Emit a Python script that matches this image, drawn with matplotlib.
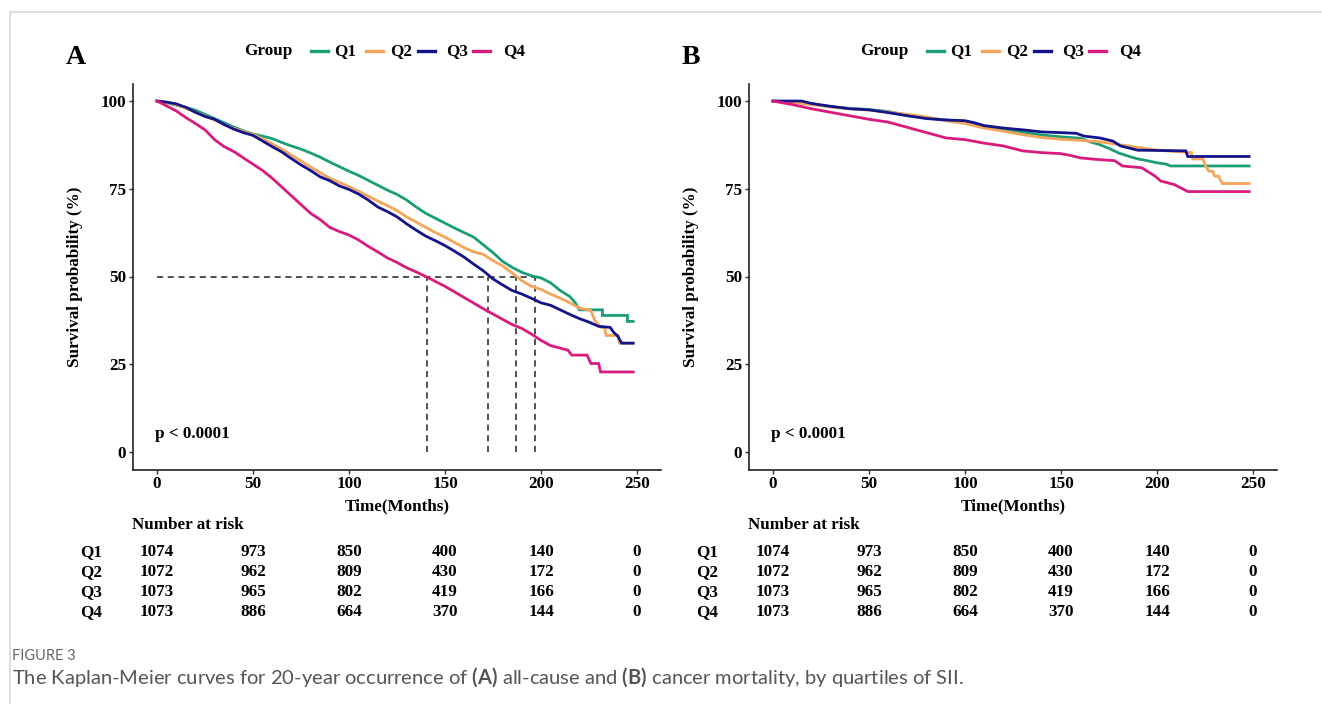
import matplotlib
matplotlib.use("Agg")
import matplotlib.pyplot as plt
from matplotlib.lines import Line2D
import matplotlib.transforms as mtransforms

plt.rcParams["mathtext.fontset"] = "custom"
plt.rcParams["mathtext.rm"] = "Lato"
plt.rcParams["mathtext.bf"] = "Lato:bold"

# ---- data ----
groups = ["Q1", "Q2", "Q3", "Q4"]
colors = ["#1B9E77", "#F5A55A", "#14148A", "#D81B7C"]

# Panel A: all-cause mortality (time in months, survival in %)
q1_a_t = [0, 5, 10, 15, 20, 25, 30, 35, 40, 45, 50, 55, 60, 65, 70, 75, 80, 85, 90, 95, 100, 105, 110, 115, 120,
          125, 130, 135, 140, 145, 150, 155, 160, 165, 170, 175, 180, 185, 190, 195, 200, 205, 210, 215, 218, 220,
          232, 232, 245, 245, 248]
q1_a_s = [100, 99.5, 98.8, 98.2, 97.4, 96.2, 95.0, 93.8, 92.6, 91.5, 90.6, 90.0, 89.3, 88.2, 87.2, 86.3, 85.2, 84.0,
          82.6, 81.3, 80.0, 78.8, 77.4, 76.0, 74.6, 73.4, 71.8, 69.8, 68.0, 66.6, 65.2, 63.8, 62.5, 61.2, 59.0, 56.8,
          54.3, 52.6, 51.2, 50.2, 49.6, 48.2, 46.0, 44.3, 42.4, 40.5, 40.5, 38.9, 38.9, 37.2, 37.2]

q2_a_t = [0, 5, 10, 15, 20, 25, 30, 35, 40, 45, 50, 55, 60, 65, 70, 75, 80, 85, 90, 95, 100, 105, 110, 115, 120,
          125, 130, 135, 140, 145, 150, 155, 160, 165, 170, 175, 180, 185, 190, 195, 200, 205, 210, 215, 220, 226,
          228, 231, 233, 234, 240, 241, 248]
q2_a_s = [100, 99.6, 98.9, 98.0, 96.8, 95.7, 94.6, 93.3, 92.2, 91.3, 90.5, 89.2, 87.8, 86.3, 84.6, 82.9, 81.2, 79.6,
          78.0, 76.8, 75.6, 74.3, 72.9, 71.5, 70.2, 68.8, 67.0, 65.5, 64.0, 62.5, 61.2, 59.7, 58.2, 57.0, 56.3, 54.5,
          53.0, 51.0, 48.8, 47.2, 46.3, 45.0, 43.8, 42.5, 41.0, 40.3, 37.5, 35.5, 35.5, 33.2, 33.2, 31.0, 31.0]

q3_a_t = [0, 5, 10, 15, 20, 25, 30, 35, 40, 45, 50, 55, 60, 65, 70, 75, 80, 85, 90, 95, 100, 105, 110, 115, 120,
          125, 130, 135, 140, 145, 150, 155, 160, 165, 170, 175, 180, 185, 190, 195, 200, 205, 210, 215, 220, 225,
          230, 236, 238, 240, 242, 248]
q3_a_s = [100, 99.7, 99.2, 98.2, 96.8, 95.6, 94.8, 93.3, 92.0, 91.0, 90.2, 88.6, 87.0, 85.5, 83.6, 81.8, 80.2, 78.4,
          77.3, 75.8, 74.8, 73.5, 71.8, 69.8, 68.5, 67.0, 65.0, 63.2, 61.5, 60.2, 58.8, 57.2, 55.5, 53.5, 51.6, 49.3,
          47.6, 46.0, 45.0, 43.8, 42.5, 41.8, 40.5, 39.2, 38.0, 37.0, 35.8, 35.5, 34.0, 33.0, 31.0, 31.0]

q4_a_t = [0, 5, 10, 15, 20, 25, 30, 35, 40, 45, 50, 55, 60, 65, 70, 75, 80, 85, 90, 95, 100, 105, 110, 115, 120,
          125, 130, 135, 140, 145, 150, 155, 160, 165, 170, 175, 180, 185, 190, 195, 200, 205, 210, 214, 216, 224,
          226, 230, 231, 248]
q4_a_s = [100, 98.6, 97.2, 95.3, 93.6, 91.8, 89.0, 87.0, 85.6, 83.8, 82.0, 80.2, 78.0, 75.5, 73.0, 70.5, 68.0, 66.2,
          64.0, 62.8, 61.8, 60.4, 58.6, 57.0, 55.3, 54.0, 52.5, 51.3, 50.0, 48.6, 47.2, 45.6, 44.0, 42.4, 40.8, 39.3,
          37.8, 36.3, 35.2, 33.6, 31.8, 30.3, 29.6, 29.0, 27.6, 27.6, 25.2, 25.2, 22.8, 22.8]

# median survival times (panel A), Q1..Q4
medians_a = [196.8, 186.8, 172.5, 140.5]

# Panel B: cancer mortality
q1_b_t = [0, 10, 20, 25, 30, 40, 50, 60, 70, 80, 90, 100, 105, 110, 120, 130, 140, 150, 160, 165, 170, 175, 180,
          185, 190, 195, 200, 205, 207, 248]
q1_b_s = [100, 99.7, 99.3, 98.8, 98.4, 97.9, 97.6, 97.0, 96.0, 95.2, 94.6, 94.2, 93.6, 92.6, 92.0, 91.2, 90.3, 89.8,
          89.4, 88.4, 87.6, 86.5, 85.2, 84.3, 83.5, 83.0, 82.4, 82.0, 81.5, 81.5]

q2_b_t = [0, 10, 20, 30, 40, 50, 60, 70, 80, 90, 100, 110, 120, 130, 140, 150, 160, 170, 180, 190, 200, 210, 218,
          218.5, 224, 225, 227, 229, 230, 232, 234, 248]
q2_b_s = [100, 99.6, 99.0, 98.3, 97.8, 97.4, 96.8, 96.2, 95.5, 94.4, 93.6, 92.3, 91.4, 90.4, 89.6, 89.1, 88.8, 88.4,
          87.6, 86.8, 86.0, 85.6, 85.3, 83.5, 83.5, 81.8, 80.0, 80.0, 78.6, 78.6, 76.5, 76.5]

q3_b_t = [0, 15, 20, 30, 40, 50, 60, 70, 80, 90, 100, 105, 110, 120, 130, 140, 150, 158, 162, 170, 177, 181, 190,
          215, 216, 248]
q3_b_s = [100, 100, 99.3, 98.5, 97.8, 97.5, 96.7, 95.8, 95.0, 94.6, 94.4, 93.8, 93.0, 92.3, 91.8, 91.2, 91.0, 90.8,
          90.0, 89.5, 88.6, 87.2, 86.0, 85.8, 84.2, 84.2]

q4_b_t = [0, 10, 20, 30, 40, 50, 60, 70, 80, 90, 100, 110, 120, 130, 140, 150, 155, 160, 170, 178, 182, 192, 199,
          202, 209, 214, 216, 248]
q4_b_s = [100, 99.0, 97.8, 96.8, 95.8, 94.8, 94.0, 92.5, 91.0, 89.5, 89.0, 88.0, 87.2, 85.8, 85.3, 85.0, 84.5, 83.8,
          83.3, 83.0, 81.5, 81.0, 78.6, 77.2, 76.2, 74.8, 74.2, 74.2]

# number at risk (same table under both panels)
risk_times = [0, 50, 100, 150, 200, 250]
risk_q1 = [1074, 973, 850, 400, 140, 0]
risk_q2 = [1072, 962, 809, 430, 172, 0]
risk_q3 = [1073, 965, 802, 419, 166, 0]
risk_q4 = [1073, 886, 664, 370, 144, 0]

y_ticks = [0, 25, 50, 75, 100]
x_ticks = [0, 50, 100, 150, 200, 250]

W, H = 1322, 704
serif = "Liberation Serif"
fs = 12.3


def fx(px):
    return px / W


def fy(py):
    return 1 - py / H


fig = plt.figure(figsize=(W / 100, H / 100), dpi=100)

# light frame around the figure panel
fig.add_artist(Line2D([fx(10), 1], [fy(11.5), fy(11.5)], color="#d8d8d8", lw=1.2))
fig.add_artist(Line2D([fx(10), fx(10)], [fy(11.5), 0], color="#d8d8d8", lw=1.2))


def draw_panel(left_px, letter, series, medians):
    ax = fig.add_axes([fx(left_px), fy(469.5), 528 / W, 386 / H])
    for (t, s), c in zip(series, colors):
        ax.plot(t, s, color=c, lw=2.0, solid_joinstyle="miter")
    if medians:
        ax.plot([0, max(medians)], [50, 50], ls=(0, (4, 3)), color="#222222", lw=1.1, zorder=1)
        for m in medians:
            ax.plot([m, m], [0, 50], ls=(0, (4, 3)), color="#222222", lw=1.1, zorder=1)
    ax.set_xlim(-12.5, 262.5)
    ax.set_ylim(-5, 105)
    ax.set_xticks(x_ticks)
    ax.set_yticks(y_ticks)
    for side in ["top", "right"]:
        ax.spines[side].set_visible(False)
    for side in ["left", "bottom"]:
        ax.spines[side].set_linewidth(1.2)
        ax.spines[side].set_color("#222222")
    ax.tick_params(length=3, width=1, color="#333333", pad=2)
    for lab in ax.get_xticklabels() + ax.get_yticklabels():
        lab.set_fontfamily(serif)
        lab.set_fontweight("bold")
        lab.set_fontsize(fs)
    ax.text(-1, 5, "p < 0.0001", family=serif, weight="bold", fontsize=fs, va="center", ha="left")

    off = left_px - 133
    # panel letter
    fig.text(fx(66 + off), fy(57), letter, family=serif, weight="bold", fontsize=20, va="center", ha="left")
    # legend
    fig.text(fx(244.5 + off), fy(51), "Group", family=serif, weight="bold", fontsize=fs, va="center", ha="left")
    line_x = [311, 366, 418, 473]
    text_x = [334, 390, 446.5, 503]
    for g, c, lx, tx in zip(groups, colors, line_x, text_x):
        fig.add_artist(Line2D([fx(lx + off), fx(lx + 17 + off)], [fy(51), fy(51)], color=c, lw=2.4))
        fig.text(fx(tx + off), fy(51), g, family=serif, weight="bold", fontsize=fs, va="center", ha="left")
    # axis titles
    fig.text(fx(75 + off), fy(277), "Survival probability (%)", family=serif, weight="bold", fontsize=fs,
             rotation=90, va="center", ha="center")
    fig.text(fx(397 + off), fy(506), "Time(Months)", family=serif, weight="bold", fontsize=fs,
             va="center", ha="center")
    # risk table
    fig.text(fx(132 + off), fy(525), "Number at risk", family=serif, weight="bold", fontsize=fs,
             va="center", ha="left")
    trans = mtransforms.blended_transform_factory(ax.transData, fig.transFigure)
    rows_y = [552, 572, 592, 612]
    for g, row, ry in zip(groups, [risk_q1, risk_q2, risk_q3, risk_q4], rows_y):
        fig.text(fx(80 + off), fy(ry), g, family=serif, weight="bold", fontsize=fs, va="center", ha="left")
        for t, n in zip(risk_times, row):
            ax.text(t, fy(ry), str(n), transform=trans, family=serif, weight="bold", fontsize=fs,
                    va="center", ha="center", clip_on=False)
    return ax


draw_panel(133, "A", [(q1_a_t, q1_a_s), (q2_a_t, q2_a_s), (q3_a_t, q3_a_s), (q4_a_t, q4_a_s)], medians_a)
draw_panel(749, "B", [(q1_b_t, q1_b_s), (q2_b_t, q2_b_s), (q3_b_t, q3_b_s), (q4_b_t, q4_b_s)], None)

# caption
fig.text(fx(12), fy(656), "FIGURE 3", family="Lato", fontsize=10.5, color="#666666", va="center", ha="left")
fig.text(fx(12), fy(677),
         r"The Kaplan-Meier curves for 20-year occurrence of $\bf{(A)}$ all-cause and $\bf{(B)}$ cancer "
         r"mortality, by quartiles of SII.",
         family="Lato", fontsize=14.5, color="#555555", va="center", ha="left")

fig.savefig("out.png", dpi=100)
